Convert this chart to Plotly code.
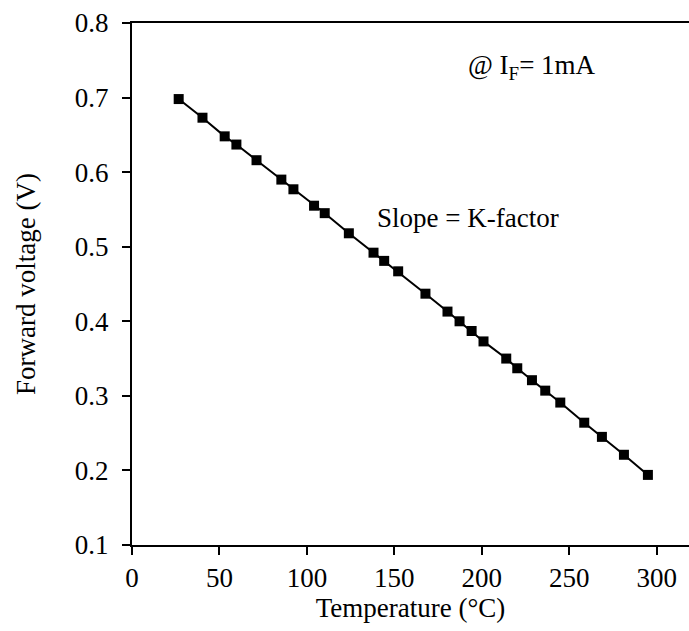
import plotly.graph_objects as go

temperature = [26.7, 40.3, 53.0, 59.7, 71.2, 85.4, 92.3, 104.1, 110.2, 124.0, 138.1,
               144.2, 152.2, 167.8, 180.4, 187.3, 194.2, 201.0, 214.0, 220.3, 228.7,
               236.3, 244.9, 258.6, 268.7, 281.3, 295.0]
forward_voltage = [0.698, 0.673, 0.648, 0.637, 0.616, 0.590, 0.577, 0.555, 0.545, 0.518, 0.492,
                   0.481, 0.467, 0.437, 0.413, 0.400, 0.387, 0.373, 0.350, 0.337, 0.321,
                   0.307, 0.291, 0.264, 0.245, 0.221, 0.194]

x_ticks = [0, 50, 100, 150, 200, 250, 300]
y_ticks = [0.1, 0.2, 0.3, 0.4, 0.5, 0.6, 0.7, 0.8]

FONT = "Liberation Serif"
FS = 27

fig = go.Figure()
fig.add_trace(go.Scatter(
    x=temperature, y=forward_voltage, mode="lines+markers",
    line=dict(color="black", width=2),
    marker=dict(symbol="square", size=10, color="black"),
    showlegend=False, hoverinfo="skip"))

fig.add_annotation(x=138.8, y=0.538, text="Slope = K-factor", showarrow=False,
                   xanchor="left", yanchor="middle",
                   font=dict(family=FONT, size=FS, color="black"))
fig.add_annotation(x=191.0, y=0.741, text="@ I<sub>F</sub>= 1mA", showarrow=False,
                   xanchor="left", yanchor="middle",
                   font=dict(family=FONT, size=FS, color="black"))

axis_common = dict(
    showgrid=False, zeroline=False, showline=True, linecolor="black", linewidth=2,
    ticks="outside", ticklen=8, tickwidth=2, tickcolor="black",
    tickfont=dict(family=FONT, size=FS, color="black"),
)

fig.update_xaxes(range=[0, 318.5], tickvals=x_ticks, mirror=True,
                 title=dict(text="Temperature (°C)", font=dict(family=FONT, size=FS, color="black"),
                            standoff=6),
                 **axis_common)
fig.update_yaxes(range=[0.1, 0.8], tickvals=y_ticks, tickformat=".1f",
                 ticklabelstandoff=8,
                 title=dict(text="Forward voltage (V)", font=dict(family=FONT, size=FS, color="black"),
                            standoff=31),
                 **axis_common)

fig.update_layout(
    width=689, height=631,
    margin=dict(l=132, r=0, t=23, b=86, autoexpand=False),
    plot_bgcolor="white", paper_bgcolor="white",
    font=dict(family=FONT, color="black"),
)

fig.write_html("out.html")
